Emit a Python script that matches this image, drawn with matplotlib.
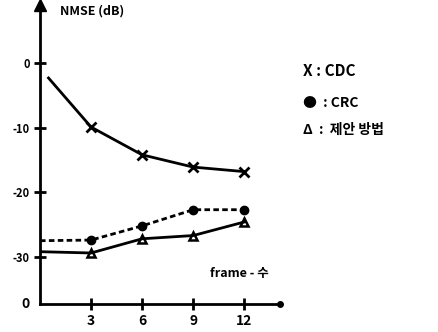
import matplotlib.pyplot as plt

plt.rcParams['font.family'] = ['Noto Sans CJK KR', 'DejaVu Sans']

frames = [3, 6, 9, 12]
cdc_x = [0.5, 3, 6, 9, 12]
cdc = [-2.3, -9.9, -14.2, -16.1, -16.8]
crc_x = [0, 3, 6, 9, 12]
crc = [-27.5, -27.4, -25.2, -22.7, -22.7]
prop_x = [0, 3, 6, 9, 12]
prop = [-29.2, -29.4, -27.2, -26.7, -24.6]
yticks = [0, -10, -20, -30]

fig = plt.figure(figsize=(4.38, 3.32), dpi=100)
ax = fig.add_axes([40 / 438, 28 / 332, 240 / 438, 299 / 332])

ax.plot(cdc_x, cdc, color='black', lw=2, marker='x', ms=7, mew=2, markevery=[1, 2, 3, 4])
ax.plot(crc_x, crc, color='black', lw=2, ls=(0, (2, 1.2)), marker='o', ms=6, markevery=[1, 2, 3, 4])
ax.plot(prop_x, prop, color='black', lw=2, marker='^', ms=6, mew=1.8, mfc='none',
        markevery=[1, 2, 3, 4])

ax.set_xlim(0, 14.1)
ax.set_ylim(-37.3, 9.0)

for s in ['top', 'right']:
    ax.spines[s].set_visible(False)
for s in ['left', 'bottom']:
    ax.spines[s].set_linewidth(2)

# arrow head on y axis, dot at end of x axis
ax.plot(0, 1, '^k', ms=8, transform=ax.transAxes, clip_on=False)
ax.plot(1, 0, 'ok', ms=4, transform=ax.transAxes, clip_on=False)

ax.set_xticks(frames)
ax.set_xticklabels([str(f) for f in frames], fontweight='bold', fontstyle='italic', fontsize=10)
ax.set_yticks(yticks)
ax.set_yticklabels([str(v) for v in yticks], fontweight='bold', fontsize=8)
ax.tick_params(direction='inout', length=9, width=2, pad=3)

ax.text(-0.6, -37.3, '0', ha='right', va='center', fontweight='bold', fontsize=10, fontstyle='italic')
ax.text(1.2, 8.0, 'NMSE (dB)', ha='left', va='center', fontweight='bold', fontsize=9)
ax.text(10.0, -32.5, 'frame - 수', ha='left', va='center', fontweight='bold', fontsize=9,
        fontstyle='italic')

fig.text(303 / 438, 1 - 71 / 332, 'X : CDC', ha='left', va='center', fontweight='bold', fontsize=11)
fig.text(303 / 438, 1 - 103 / 332, '●  : CRC', ha='left', va='center', fontweight='bold', fontsize=10)
fig.text(303 / 438, 1 - 130 / 332, 'Δ  :  제안 방법', ha='left', va='center', fontweight='bold',
         fontsize=10)

fig.savefig('out.png', dpi=100)
